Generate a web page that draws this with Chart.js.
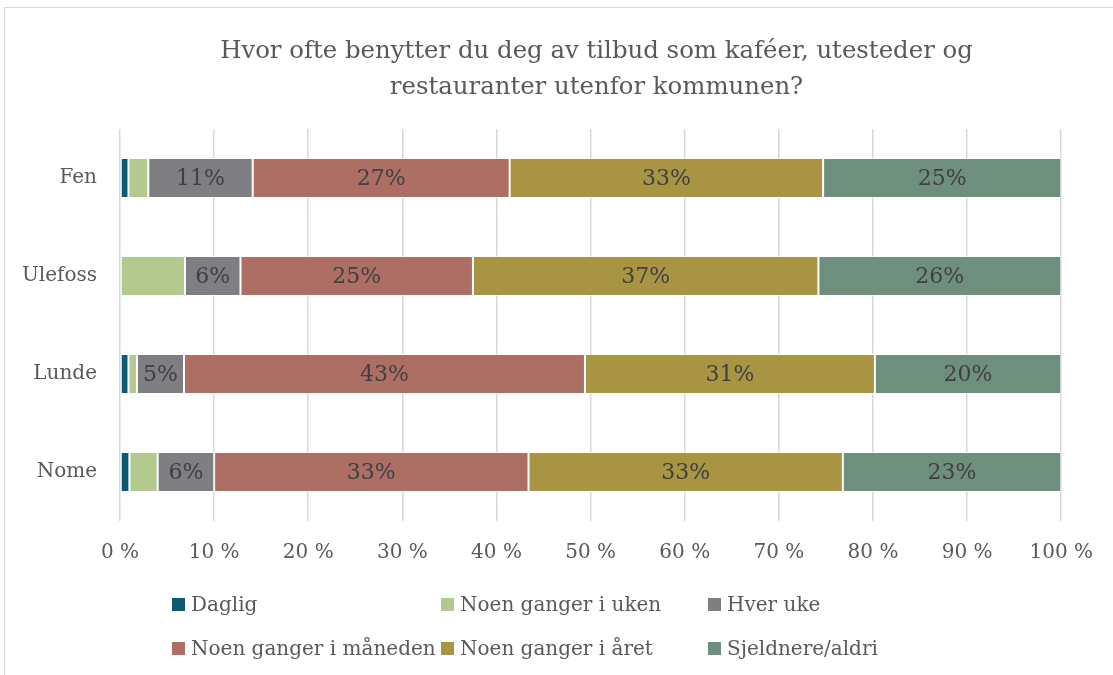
<!DOCTYPE html>
<html lang="no">
<head>
  <meta charset="utf-8">
  <title>Kaféer, utesteder og restauranter</title>
  <script src="https://cdn.jsdelivr.net/npm/chart.js"></script>
  <style>
    html, body { margin: 0; padding: 0; background: #fff; overflow: hidden; }
    body { width: 1113px; height: 675px; position: relative; font-family: 'DejaVu Serif', serif; }
    .frame { position: absolute; left: 4px; top: 7px; width: 1300px; height: 900px; border: 1px solid #d9d9d9; }
    #chart { position: absolute; left: 0; top: 0; }
    .title { position: absolute; left: 40px; width: 1113px; top: 32px; text-align: center;
             font-size: 24.4px; line-height: 36px; color: #595959; }
    .leg { position: absolute; font-size: 20px; color: #595959; line-height: 24px; white-space: nowrap; }
    .leg span.box { position: absolute; left: 0; top: 6px; width: 13px; height: 13px; }
    .leg span.txt { position: absolute; left: 19px; top: 0; }
  </style>
</head>
<body>
  <div class="frame"></div>
  <canvas id="chart" width="1113" height="675"></canvas>
  <div class="title">Hvor ofte benytter du deg av tilbud som kaféer, utesteder og<br>restauranter utenfor kommunen?</div>
  <div id="legend"></div>

  <script>
    // data (percent of respondents)
    const categories = ['Fen', 'Ulefoss', 'Lunde', 'Nome'];
    const seriesNames = ['Daglig', 'Noen ganger i uken', 'Hver uke', 'Noen ganger i måneden', 'Noen ganger i året', 'Sjeldnere/aldri'];
    const daglig    = [0.9, 0.0, 0.9, 1.0];
    const iUken     = [2.1, 6.9, 0.9, 3.0];
    const hverUke   = [11.1, 5.9, 5.0, 6.0];
    const iMaaneden = [27.3, 24.7, 42.6, 33.4];
    const iAaret    = [33.3, 36.7, 30.8, 33.4];
    const sjeldnere = [25.3, 25.8, 19.8, 23.2];
    const xTicks    = [0, 10, 20, 30, 40, 50, 60, 70, 80, 90, 100];

    const colors = ['#0c5a72', '#b3c98d', '#7f7f83', '#ad6f64', '#a99443', '#6f8f7e'];
    const showLabel = [false, false, true, true, true, true];
    const values = [daglig, iUken, hverUke, iMaaneden, iAaret, sjeldnere];
    const serif = "'DejaVu Serif', serif";

    const barLabels = {
      id: 'barLabels',
      afterDatasetsDraw(chart) {
        const ctx = chart.ctx;
        ctx.save();
        ctx.font = '22px ' + serif;
        ctx.fillStyle = '#404040';
        ctx.textAlign = 'center';
        ctx.textBaseline = 'middle';
        chart.data.datasets.forEach((ds, i) => {
          if (!showLabel[i]) return;
          chart.getDatasetMeta(i).data.forEach((bar, j) => {
            const p = bar.getProps(['x', 'y', 'base'], true);
            ctx.fillText(Math.round(ds.data[j]) + '%', (p.x + p.base) / 2, p.y + 1);
          });
        });
        ctx.restore();
      }
    };

    const chart = new Chart(document.getElementById('chart'), {
      type: 'bar',
      data: {
        labels: categories,
        datasets: seriesNames.map((name, i) => ({
          label: name,
          data: values[i],
          backgroundColor: colors[i],
          borderColor: 'rgba(255,255,255,0.55)',
          borderWidth: 1,
          borderSkipped: false,
          categoryPercentage: 1,
          barPercentage: 0.41
        }))
      },
      options: {
        indexAxis: 'y',
        responsive: false,
        animation: false,
        layout: { padding: { left: 0, right: 48, top: 129, bottom: 0 } },
        plugins: {
          legend: { display: false },
          tooltip: { enabled: false },
          title: { display: false }
        },
        scales: {
          x: {
            stacked: true,
            min: 0,
            max: 100,
            afterBuildTicks: s => { s.ticks = xTicks.map(v => ({ value: v })); },
            afterFit: s => { s.height = 154; },
            grid: { color: '#d9d9d9', lineWidth: 1.5, drawTicks: false },
            border: { display: false },
            ticks: {
              padding: 20,
              color: '#595959',
              font: { family: serif, size: 20 },
              callback: v => v + ' %'
            }
          },
          y: {
            stacked: true,
            afterFit: s => { s.width = 120; },
            grid: { display: false, drawTicks: false },
            border: { display: false },
            ticks: {
              padding: 23,
              color: '#595959',
              font: { family: serif, size: 20 }
            }
          }
        }
      },
      plugins: [barLabels]
    });

    // legend in three fixed columns, like the original
    const legCols = [172, 441, 708];
    const legRows = [592, 636];
    const legend = document.getElementById('legend');
    chart.data.datasets.forEach((ds, i) => {
      const d = document.createElement('div');
      d.className = 'leg';
      d.style.left = legCols[i % 3] + 'px';
      d.style.top = legRows[Math.floor(i / 3)] + 'px';
      d.innerHTML = '<span class="box" style="background:' + ds.backgroundColor + '"></span><span class="txt"></span>';
      d.querySelector('.txt').textContent = ds.label;
      legend.appendChild(d);
    });
  </script>
</body>
</html>
